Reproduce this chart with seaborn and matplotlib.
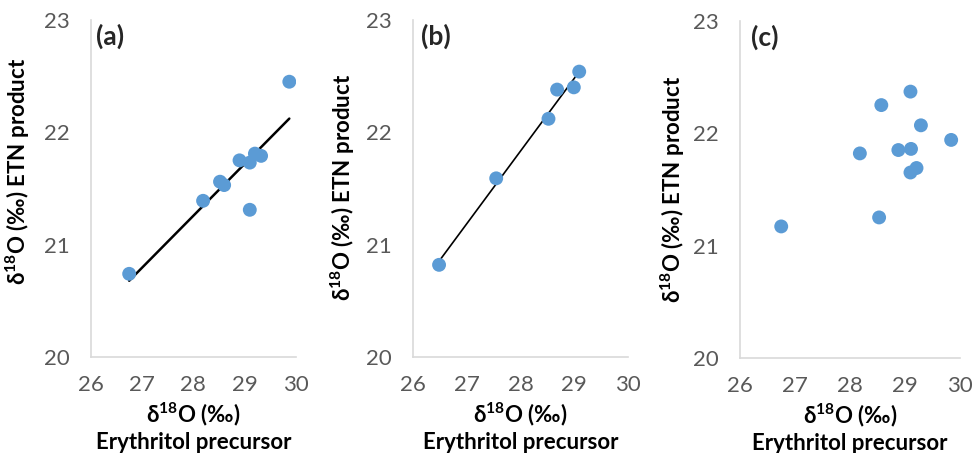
import matplotlib
matplotlib.use("Agg")
import matplotlib.pyplot as plt
import numpy as np
import pandas as pd
import seaborn as sns

# data
a_precursor = [26.75, 28.19, 28.52, 28.60, 28.90, 29.10, 29.20, 29.32, 29.10, 29.87]
a_product = [20.74, 21.39, 21.56, 21.53, 21.75, 21.73, 21.81, 21.79, 21.31, 22.45]

b_precursor = [26.49, 27.55, 28.52, 28.68, 28.99, 29.09]
b_product = [20.82, 21.59, 22.12, 22.38, 22.40, 22.54]

c_precursor = [26.75, 28.18, 28.53, 28.57, 28.88, 29.11, 29.10, 29.29, 29.21, 29.10, 29.84]
c_product = [21.17, 21.82, 21.25, 22.25, 21.85, 21.86, 22.37, 22.07, 21.69, 21.65, 21.94]

panel_letters = ["(a)", "(b)", "(c)"]
x_ticks = [26, 27, 28, 29, 30]
y_ticks = [20, 21, 22, 23]

sns.set_theme(style="white")
plt.rcParams['font.family'] = ['Lato', 'DejaVu Sans']
plt.rcParams['mathtext.fontset'] = 'custom'
plt.rcParams['mathtext.rm'] = 'Lato'
plt.rcParams['mathtext.bf'] = 'Lato:bold'

blue = '#5B9BD5'
grey = '#D9D9D9'
tick_col = '#595959'

fig = plt.figure(figsize=(9.73, 4.53), dpi=100)
boxes = [[0.0932, 0.212, 0.211, 0.744],
         [0.4241, 0.212, 0.2216, 0.744],
         [0.7605, 0.210, 0.2261, 0.744]]
ylab_x = [-0.286, -0.26, -0.242]
ylab_y = [0.55, 0.503, 0.50]
letter_x = [0.025, 0.04, 0.05]

sets = [(a_precursor, a_product, True, 1.8),
        (b_precursor, b_product, True, 1.2),
        (c_precursor, c_product, False, 0)]

ylabel = r'$\mathbf{\delta^{18}}$O (‰) ETN product'
xlabel = r'$\mathbf{\delta^{18}}$O (‰)' + '\nErythritol precursor'

for i, (xs, ys, fit, lw) in enumerate(sets):
    ax = fig.add_axes(boxes[i])
    df = pd.DataFrame({'x': xs, 'y': ys})
    if fit:
        sns.regplot(data=df, x='x', y='y', ax=ax, scatter=False, ci=None,
                    color='black', line_kws={'linewidth': lw})
    sns.scatterplot(data=df, x='x', y='y', ax=ax, color=blue, s=100,
                    edgecolor='none', zorder=3)
    ax.set_xlim(26, 30)
    ax.set_ylim(20, 23)
    ax.set_xticks(x_ticks)
    ax.set_yticks(y_ticks)
    ax.tick_params(axis='both', length=0, labelsize=16, colors=tick_col)
    ax.tick_params(axis='x', pad=13)
    ax.tick_params(axis='y', pad=15)
    for side in ['top', 'right']:
        ax.spines[side].set_visible(False)
    for side in ['left', 'bottom']:
        ax.spines[side].set_color(grey)
        ax.spines[side].set_linewidth(1.2)
    ax.set_xlabel(xlabel, fontsize=16, fontweight='bold', color='black',
                  linespacing=1.25, labelpad=4)
    ax.set_ylabel(ylabel, fontsize=16, fontweight='bold', color='black')
    ax.yaxis.set_label_coords(ylab_x[i], ylab_y[i])
    ax.text(letter_x[i], 0.95, panel_letters[i], transform=ax.transAxes,
            fontsize=19, fontweight='bold', va='center', ha='left')

fig.savefig('out.png', dpi=100)
